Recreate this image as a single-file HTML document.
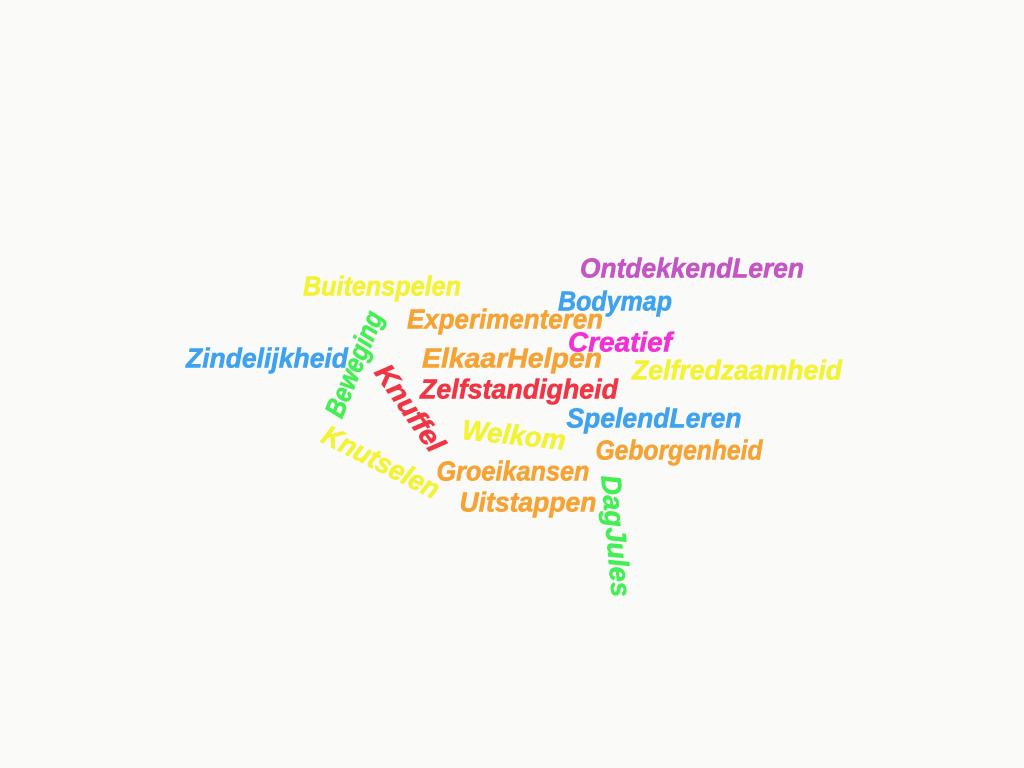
<!DOCTYPE html>
<html><head><meta charset="utf-8"><style>html,body{margin:0;padding:0;background:#fafaf8;width:1024px;height:768px;overflow:hidden}</style></head>
<body>
<svg width="1024" height="768" viewBox="0 0 1024 768" xmlns="http://www.w3.org/2000/svg">
<rect width="1024" height="768" fill="#fafaf8"/>
<g font-family="Liberation Sans, sans-serif" font-weight="bold" font-style="italic" font-size="28" text-anchor="middle" dominant-baseline="central" stroke-width="0.6">
<text x="692" y="268" fill="#c455c4" stroke="#c455c4" textLength="224" lengthAdjust="spacingAndGlyphs">OntdekkendLeren</text>
<text x="382" y="286" fill="#f4f235" stroke="#f4f235" textLength="158" lengthAdjust="spacingAndGlyphs">Buitenspelen</text>
<text x="615" y="301" fill="#3ea2ee" stroke="#3ea2ee" textLength="114" lengthAdjust="spacingAndGlyphs">Bodymap</text>
<text x="505" y="319" fill="#f5a334" stroke="#f5a334" textLength="196" lengthAdjust="spacingAndGlyphs">Experimenteren</text>
<text x="620" y="342" fill="#f032d4" stroke="#f032d4" textLength="104" lengthAdjust="spacingAndGlyphs">Creatief</text>
<text x="267" y="358" fill="#3ea2ee" stroke="#3ea2ee" textLength="162" lengthAdjust="spacingAndGlyphs">Zindelijkheid</text>
<text x="512" y="358" fill="#f5a334" stroke="#f5a334" textLength="180" lengthAdjust="spacingAndGlyphs">ElkaarHelpen</text>
<text x="737" y="370" fill="#f4f235" stroke="#f4f235" textLength="210" lengthAdjust="spacingAndGlyphs">Zelfredzaamheid</text>
<text x="519" y="389" fill="#f03644" stroke="#f03644" textLength="198" lengthAdjust="spacingAndGlyphs">Zelfstandigheid</text>
<text x="654" y="418" fill="#3ea2ee" stroke="#3ea2ee" textLength="175" lengthAdjust="spacingAndGlyphs">SpelendLeren</text>
<text x="679" y="450" fill="#f5a334" stroke="#f5a334" textLength="167" lengthAdjust="spacingAndGlyphs">Geborgenheid</text>
<text x="513" y="471" fill="#f5a334" stroke="#f5a334" textLength="153" lengthAdjust="spacingAndGlyphs">Groeikansen</text>
<text x="528" y="502" fill="#f5a334" stroke="#f5a334" textLength="137" lengthAdjust="spacingAndGlyphs">Uitstappen</text>
<text x="0" y="0" fill="#f4f235" stroke="#f4f235" textLength="104" lengthAdjust="spacingAndGlyphs" transform="translate(514,435) rotate(6)">Welkom</text>
<text x="0" y="0" fill="#44ee55" stroke="#44ee55" textLength="112" lengthAdjust="spacingAndGlyphs" transform="translate(354,364) rotate(-68)">Beweging</text>
<text x="0" y="0" fill="#f03644" stroke="#f03644" textLength="100" lengthAdjust="spacingAndGlyphs" transform="translate(410,408) rotate(55)">Knuffel</text>
<text x="0" y="0" fill="#f4f235" stroke="#f4f235" textLength="128" lengthAdjust="spacingAndGlyphs" transform="translate(381,462) rotate(27)">Knutselen</text>
<text x="0" y="0" fill="#44ee55" stroke="#44ee55" textLength="122" lengthAdjust="spacingAndGlyphs" transform="translate(616,536) rotate(85)">DagJules</text>
</g>
</svg>
</body></html>
